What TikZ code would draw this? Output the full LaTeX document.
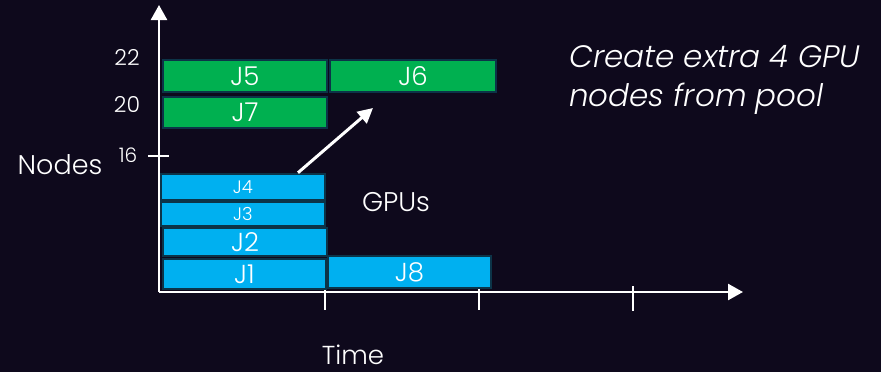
\documentclass[tikz,border=0pt]{standalone}
\usepackage{fontspec}
\setmainfont{Poppins}[UprightFont=* Light,ItalicFont=* Light Italic]
\usetikzlibrary{arrows.meta}
\definecolor{nightsky}{RGB}{14,9,28}
\definecolor{jobgreen}{RGB}{0,176,80}
\definecolor{jobblue}{RGB}{0,176,240}
\definecolor{jobedge}{RGB}{12,52,72}
\newcommand{\pxfont}[1]{\fontsize{#1}{1.25\dimexpr#1pt\relax}\selectfont}

\begin{document}
\begin{tikzpicture}[x=1pt,y=-1pt,text=white,
  job/.style={draw=jobedge,line width=2.5pt,inner sep=0pt,font=\pxfont{26}},
  gjob/.style={job,fill=jobgreen},
  bjob/.style={job,fill=jobblue},
  axis/.style={draw=white,line width=2.5pt,-{Triangle[length=15pt,width=16pt]}},
  tick/.style={draw=white,line width=1.5pt}]
%\draw[help lines] (0,0) grid (881,372);
\useasboundingbox [fill=nightsky] (0,0) rectangle (881,372);

% axes
\coordinate (origin) at (159,292);
\coordinate (ytop) at (159,5);
\coordinate (xend) at (743,292);
\coordinate (t_1a) at (325,289);
\coordinate (t_1b) at (325,310);
\coordinate (t_2a) at (479,287);
\coordinate (t_2b) at (479,310);
\coordinate (t_3a) at (633,286);
\coordinate (t_3b) at (633,311);
\coordinate (y16a) at (148,156);
\coordinate (y16b) at (169,156);
\draw [tick] (t_1a) -- (t_1b);
\draw [tick] (t_2a) -- (t_2b);
\draw [tick] (t_3a) -- (t_3b);
\draw [tick] (y16a) -- (y16b);
\draw [axis] (origin) -- (ytop);
\draw [axis] (origin) -- (xend);

% jobs
\node (J5) [gjob,minimum width=164pt,minimum height=32pt] at (245,76) {J5};
\node (J6) [gjob,minimum width=166pt,minimum height=32pt] at (413,76) {J6};
\node (J7) [gjob,minimum width=164pt,minimum height=31pt] at (245,112.5) {J7};
\node (J4) [bjob,minimum width=164pt,minimum height=26pt,font=\pxfont{18}] at (243,187) {J4};
\node (J3) [bjob,minimum width=164pt,minimum height=24pt,font=\pxfont{18}] at (243,214) {J3};
\node (J2) [bjob,minimum width=164pt,minimum height=28pt] at (245,242) {J2};
\node (J1) [bjob,minimum width=163pt,minimum height=30pt] at (244.5,274) {J1};
\node (J8) [bjob,minimum width=163pt,minimum height=32pt] at (409.5,272) {J8};

% labels
\node (l22) [font=\pxfont{22}] at (127,57) {22};
\node (l20) [font=\pxfont{22}] at (127,105) {20};
\node (l16) [font=\pxfont{20}] at (128,155) {16};
\node (nodes) [font=\pxfont{27}] at (60,165) {Nodes};
\node (gpus) [font=\pxfont{27}] at (396,202) {GPUs};
\node (time) [font=\pxfont{26},inner sep=0pt] at (353,355) {Time};
\node (pool) [font=\pxfont{31}\itshape,align=left,anchor=west,inner sep=0pt] at (569,80)
  {Create extra 4 GPU\\nodes from pool};

\coordinate (grow) at (373,108);
\draw [axis,line width=3pt,-{Triangle[length=15pt,width=15pt]}] ([xshift=55pt]J4.north) -- (grow);
\end{tikzpicture}
\end{document}
